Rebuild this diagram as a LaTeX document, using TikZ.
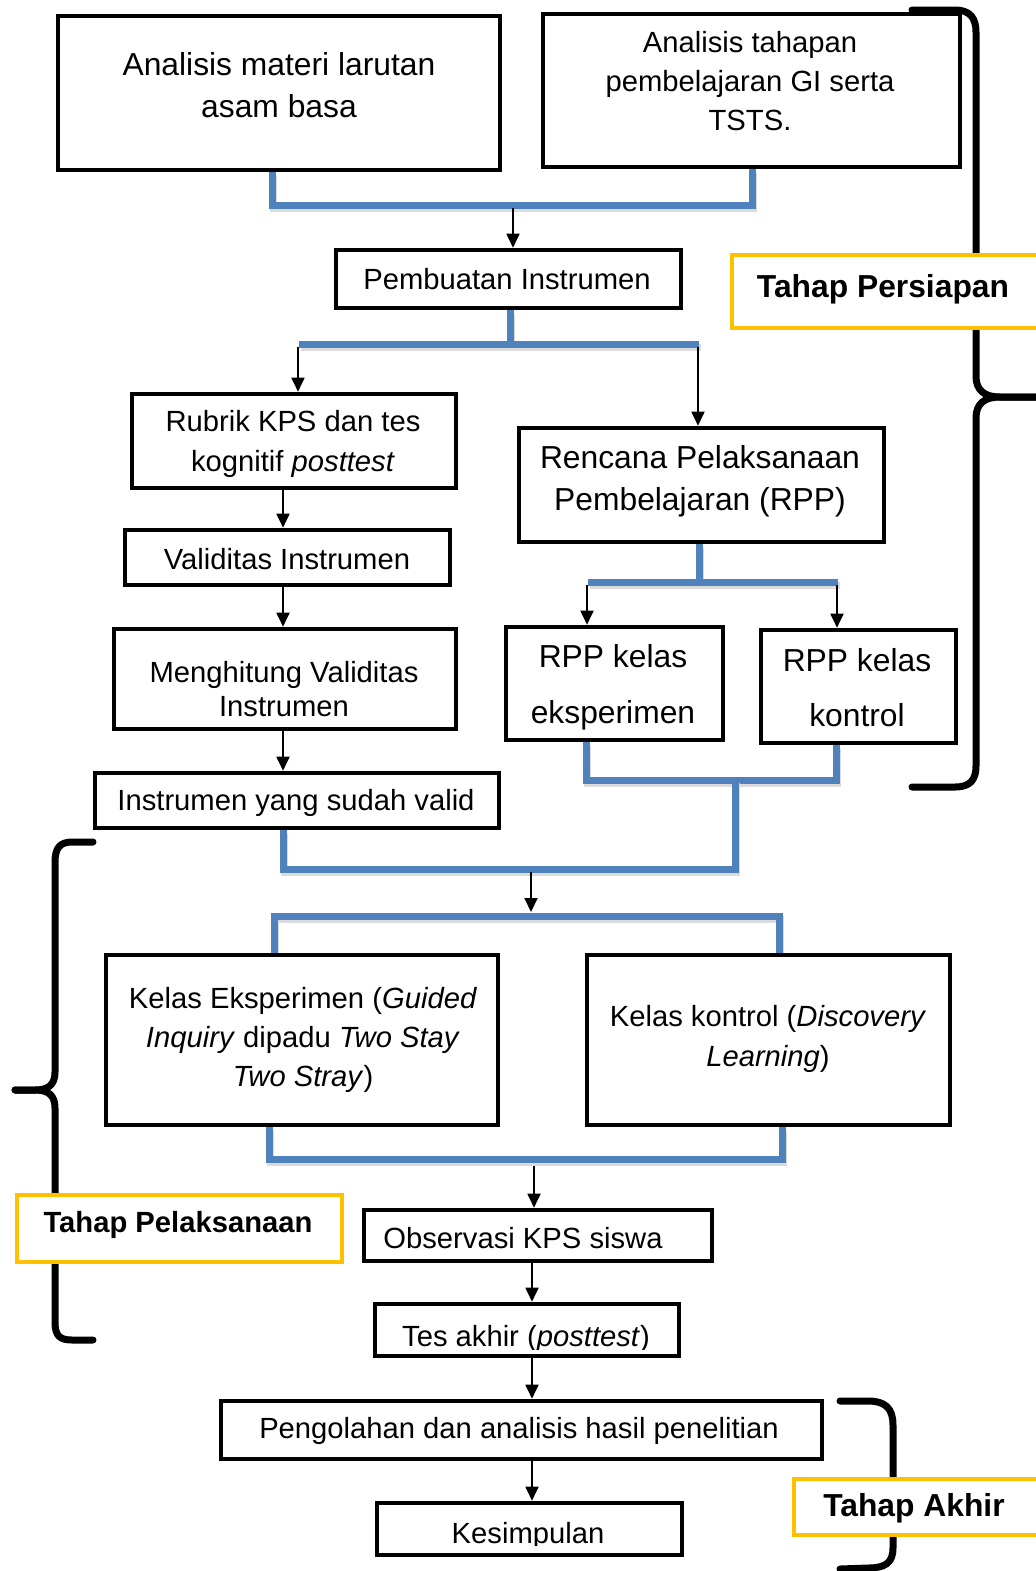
\documentclass[tikz,border=0pt]{standalone}
\usepackage{fontspec}
\setmainfont{Liberation Sans}
\usetikzlibrary{arrows.meta,fit,backgrounds}
\definecolor{bluec}{HTML}{4F81BD}
\definecolor{yel}{HTML}{FFC000}
\newcommand\ml[1]{\begin{tabular}[t]{@{}c@{}}#1\end{tabular}}
\newcommand\fz[2]{\fontsize{#1}{#2}\selectfont}
\begin{document}
\begin{tikzpicture}[x=0.5pt,y=-0.5pt,
  box/.style={draw=black, line width=2.3pt, fill=white, inner sep=0pt},
  ybox/.style={draw=yel, line width=2pt, fill=white, inner sep=0pt},
  txt/.style={anchor=base, inner sep=0pt},
  arr/.style={line width=0.9pt, -{Triangle[length=7pt,width=6.5pt]}},
  bl/.style={draw=bluec, line width=3.5pt, line join=miter,
     preaction={draw=black!14, line width=3.5pt, transform canvas={shift={(0.8pt,-1.6pt)}}}},
  brc/.style={line width=3.5pt, line cap=round, line join=round}]
\useasboundingbox (0,0) rectangle (1036,1571);

% ---------------- boxes
\node[box, fit={(58,16) (500,170)}] (b1) {};
\node[box, fit={(543,14) (960,167)}] (b2) {};
\node[box, fit={(336,250) (681,308)}] (b3) {};
\node[box, fit={(132,394) (456,488)}] (b4) {};
\node[box, fit={(519,428) (884,542)}] (b5) {};
\node[box, fit={(125,530) (450,585)}] (b6) {};
\node[box, fit={(114,629) (456,729)}] (b7) {};
\node[box, fit={(506,627) (723,740)}] (b8) {};
\node[box, fit={(761,630) (956,743)}] (b9) {};
\node[box, fit={(95,773) (499,828)}] (b10) {};
\node[box, fit={(106,955) (498,1125)}] (b11) {};
\node[box, fit={(587,955) (950,1125)}] (b12) {};
\node[box, fit={(364,1210) (712,1261)}] (b13) {};
\node[box, fit={(375,1304) (679,1356)}] (b14) {};
\node[box, fit={(221,1401) (822,1459)}] (b15) {};
\node[box, fit={(377,1503) (682,1555)}] (b16) {};

\node[ybox, fit={(732,255) (1046,328)}] (y1) {};
\node[ybox, fit={(17,1195) (342,1262)}] (y2) {};
\node[ybox, fit={(794,1479) (1046,1535)}] (y3) {};

% ---------------- connectors and braces (behind boxes)
\begin{pgfonlayer}{background}
  % braces
  \draw[brc] (912,10) -- (955,10) .. controls (970,10) and (976,18) .. (976,32) -- (976,376)
     .. controls (976,390) and (984,397) .. (1000,397) -- (1044,397);
  \draw[brc] (1044,397) -- (1000,397) .. controls (984,397) and (976,404) .. (976,418) -- (976,766)
     .. controls (976,780) and (970,787) .. (955,787) -- (912,787);
  \draw[brc] (93,842) -- (72,842) .. controls (60,842) and (55,848) .. (55,862) -- (55,1072)
     .. controls (55,1085) and (48,1090) .. (35,1090) -- (15,1090);
  \draw[brc] (15,1090) -- (35,1090) .. controls (48,1090) and (55,1095) .. (55,1108) -- (55,1322)
     .. controls (55,1336) and (60,1340) .. (72,1340) -- (93,1340);
  \draw[brc] (840,1401) -- (868,1401) .. controls (885,1401) and (893,1408) .. (893,1425) -- (893,1548)
     .. controls (893,1563) and (885,1568) .. (868,1568) -- (840,1569);

  % blue connectors
  \coordinate (j1a) at (272,205); \coordinate (j1b) at (752,205);
  \draw[bl] (j1a |- b1.south) -- (j1a) -- (j1b) -- (j1b |- b2.south);
  \coordinate (j2) at (510,344); \coordinate (j2a) at (299,344); \coordinate (j2b) at (699,344);
  \draw[bl] (j2 |- b3.south) -- (j2);
  \draw[bl] (j2a) -- (j2b);
  \coordinate (j3) at (699,582); \coordinate (j3a) at (588,582); \coordinate (j3b) at (838,582);
  \draw[bl] (j3 |- b5.south) -- (j3);
  \draw[bl] (j3a) -- (j3b);
  \coordinate (j4a) at (586,780); \coordinate (j4b) at (836,780);
  \draw[bl] (j4a |- b8.south) -- (j4a) -- (j4b) -- (j4b |- b9.south);
  \coordinate (j5a) at (735,780); \coordinate (j5b) at (735,869); \coordinate (j5c) at (283,869);
  \draw[bl] (j5a) -- (j5b) -- (j5c) -- (j5c |- b10.south);
  \coordinate (j6a) at (274,916); \coordinate (j6b) at (779,916);
  \draw[bl] (j6a |- b11.north) -- (j6a) -- (j6b) -- (j6b |- b12.north);
  \coordinate (j7a) at (269,1159); \coordinate (j7b) at (782,1159);
  \draw[bl] (j7a |- b11.south) -- (j7a) -- (j7b) -- (j7b |- b12.south);

  % arrows
  \coordinate (s1) at (513,208);
  \draw[arr] (s1) -- (s1 |- b3.north);
  \coordinate (s2) at (298,347);
  \draw[arr] (s2) -- (s2 |- b4.north);
  \coordinate (s3) at (698,347);
  \draw[arr] (s3) -- (s3 |- b5.north);
  \coordinate (xv) at (283,0);
  \draw[arr] (b4.south -| xv) -- (b6.north -| xv);
  \draw[arr] (b6.south -| xv) -- (b7.north -| xv);
  \draw[arr] (b7.south -| xv) -- (b10.north -| xv);
  \coordinate (s4) at (587,585);
  \draw[arr] (s4) -- (s4 |- b8.north);
  \coordinate (s5) at (837,585);
  \draw[arr] (s5) -- (s5 |- b9.north);
  \coordinate (s9) at (531,872); \coordinate (e9) at (531,912);
  \draw[arr] (s9) -- (e9);
  \coordinate (s10) at (534,1166);
  \draw[arr] (s10) -- (s10 |- b13.north);
  \coordinate (xw) at (532,0);
  \draw[arr] (b13.south -| xw) -- (b14.north -| xw);
  \draw[arr] (b14.south -| xw) -- (b15.north -| xw);
  \draw[arr] (b15.south -| xw) -- (b16.north -| xw);
\end{pgfonlayer}

% ---------------- texts
\node[txt, font=\fz{15.9}{21}] (t1) at (279,75) {\ml{Analisis materi larutan\\asam basa}};
\node[txt, font=\fz{14.6}{19.5}] (t2) at (750,52) {\ml{Analisis tahapan\\pembelajaran GI serta\\TSTS.}};
\node[txt, font=\fz{14.6}{19.5}] (t3) at (507,289) {Pembuatan Instrumen};
\node[txt, font=\fz{15.9}{21}\bfseries] (tp1) at (883,297) {Tahap Persiapan};
\node[txt, font=\fz{14.6}{20}] (t4) at (293,431) {\ml{Rubrik KPS dan tes\\kognitif \textit{posttest}}};
\node[txt, font=\fz{15.9}{21}] (t5) at (700,468) {\ml{Rencana Pelaksanaan\\Pembelajaran (RPP)}};
\node[txt, font=\fz{14.6}{19.5}] (t6) at (287,569) {Validitas Instrumen};
\node[txt, font=\fz{14.6}{17}] (t7) at (284,682) {\ml{Menghitung Validitas\\Instrumen}};
\node[txt, font=\fz{15.9}{28}] (t8) at (613,667) {\ml{RPP kelas\\eksperimen}};
\node[txt, font=\fz{15.9}{27.5}] (t9) at (857,671) {\ml{RPP kelas\\kontrol}};
\node[txt, font=\fz{14.6}{19.5}] (t10) at (296,810) {Instrumen yang sudah valid};
\node[txt, font=\fz{14.6}{19.5}] (t11) at (303,1008) {\ml{Kelas Eksperimen (\textit{Guided}\\\textit{Inquiry} dipadu \textit{Two Stay}\\\textit{Two Stray})}};
\node[txt, font=\fz{14.6}{20}] (t12) at (768,1026) {\ml{Kelas kontrol (\textit{Discovery}\\\textit{Learning})}};
\node[txt, font=\fz{14.6}{19.5}\bfseries] (tp2) at (178,1232) {Tahap Pelaksanaan};
\node[txt, font=\fz{14.6}{19.5}] (t13) at (523,1248) {Observasi KPS siswa};
\begin{scope}
  \clip (380,1300) rectangle (676,1349);
  \node[txt, font=\fz{14.6}{19.5}] (t14) at (526,1346) {Tes akhir (\textit{posttest})};
\end{scope}
\node[txt, font=\fz{14.6}{19.5}] (t15) at (519,1438) {Pengolahan dan analisis hasil penelitian};
\node[txt, font=\fz{15.9}{21}\bfseries] (tp3) at (914,1516) {Tahap Akhir};
\begin{scope}
  \clip (380,1500) rectangle (678,1545);
  \node[txt, font=\fz{14.6}{19.5}] (t16) at (528,1543) {Kesimpulan};
\end{scope}
\end{tikzpicture}
\end{document}
